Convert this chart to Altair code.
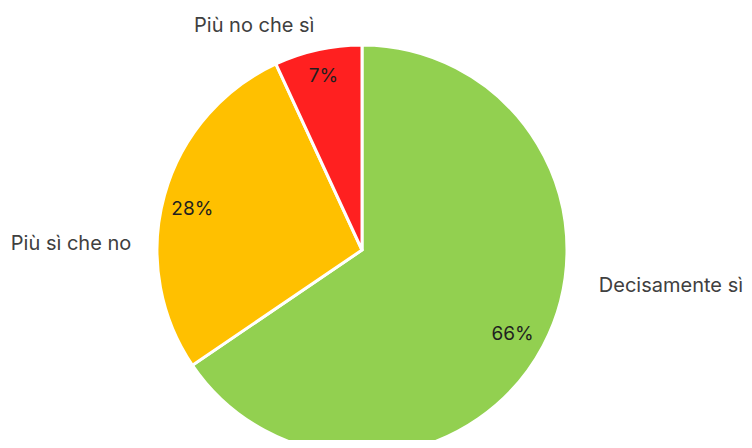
import altair as alt
import pandas as pd

categories = ["Decisamente sì", "Più sì che no", "Più no che sì"]
values = [65.5, 27.6, 6.9]
pct_labels = ["66%", "28%", "7%"]
colors = ["#92D050", "#FFC000", "#FF2020"]
order_idx = [0, 1, 2]

df = pd.DataFrame({"cat": categories, "value": values, "pct": pct_labels, "idx": order_idx})

CX, CY = 354, 242  # pie centre inside plot area
FONT = "Inter"

base = (
    alt.Chart(df)
    .transform_stack(stack="value", as_=["t0", "t1"], groupby=[],
                     sort=[alt.SortField("idx", order="ascending")])
    .transform_calculate(mid="(datum.t0 + datum.t1) / 2")
    .encode(x=alt.value(CX), y=alt.value(CY))
)

theta_scale = alt.Scale(domain=[0, 100])

pie = base.mark_arc(outerRadius=205, stroke="white", strokeWidth=3).encode(
    theta=alt.Theta("t0:Q", scale=theta_scale, stack=None),
    theta2="t1:Q",
    color=alt.Color("cat:N", scale=alt.Scale(domain=categories, range=colors), legend=None),
)

pct_offsets = {
    "Decisamente sì": (-4, 2),
    "Più sì che no": (-1, 6),
    "Più no che sì": (-1, -3),
}
cat_offsets = {
    "Decisamente sì": (88, -81),
    "Più sì che no": (-50, 61),
    "Più no che sì": (-54, 20),
}

layers = [pie]
for c in categories:
    dx, dy = pct_offsets[c]
    layers.append(
        base.transform_filter(alt.datum.cat == c)
        .mark_text(radius=175, font=FONT, fontSize=19, color="#1f1f1f",
                   align="center", baseline="middle", dx=dx, dy=dy)
        .encode(theta=alt.Theta("mid:Q", scale=theta_scale, stack=None), text="pct:N")
    )
for c in categories:
    dx, dy = cat_offsets[c]
    layers.append(
        base.transform_filter(alt.datum.cat == c)
        .mark_text(radius=250, font=FONT, fontSize=20, color="#404040",
                   align="center", baseline="middle", dx=dx, dy=dy)
        .encode(theta=alt.Theta("mid:Q", scale=theta_scale, stack=None), text="cat:N")
    )

chart = alt.layer(*layers).properties(
    width=736, height=432, padding=0, autosize=alt.AutoSizeParams(type="none")
).configure_view(stroke=None)

chart.save("out.html", embed_options={"renderer": "svg", "actions": False})
